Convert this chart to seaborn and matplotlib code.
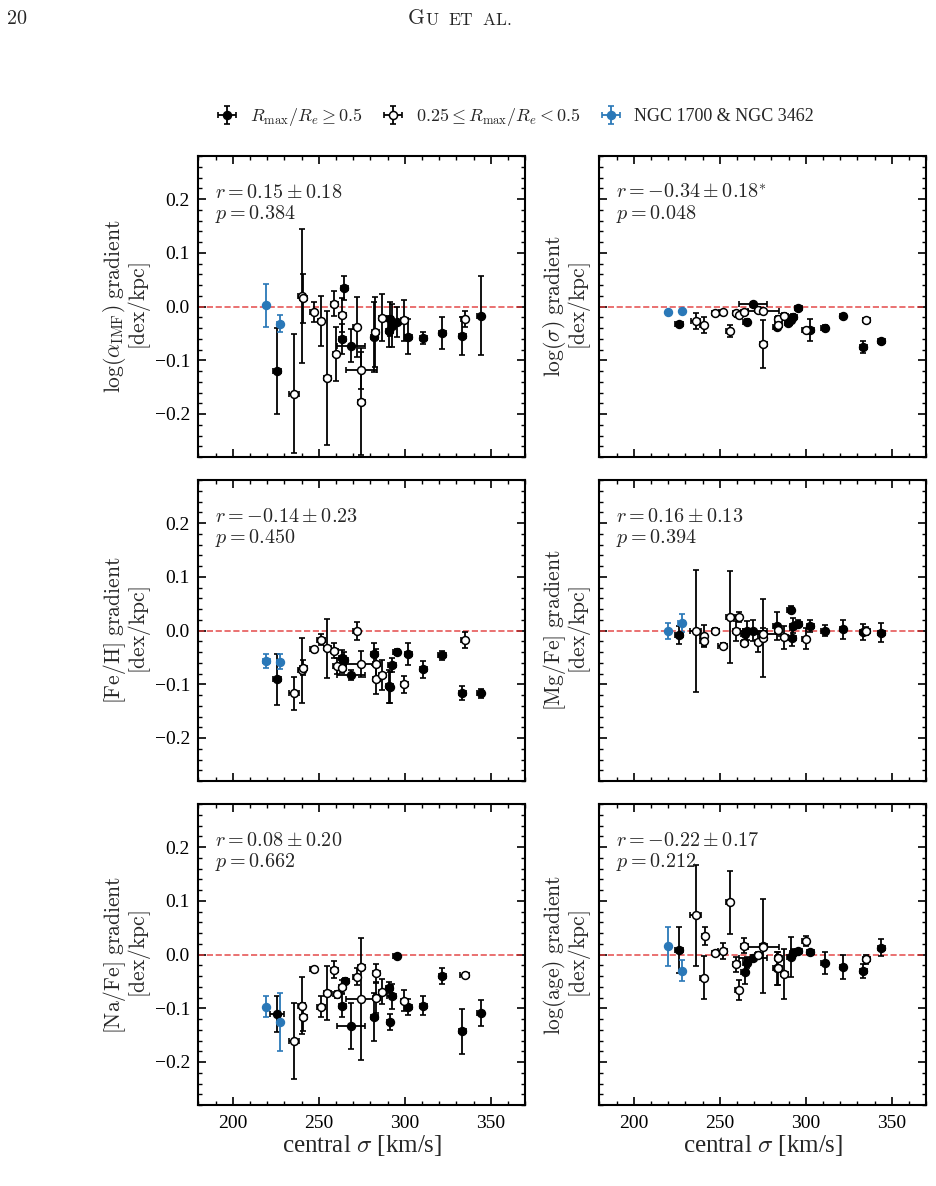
import numpy as np
import pandas as pd
import matplotlib
matplotlib.use('Agg')
import matplotlib.pyplot as plt
import seaborn as sns
from matplotlib.ticker import MultipleLocator
from matplotlib.lines import Line2D
from matplotlib.legend_handler import HandlerTuple

# ---------------- data: (central sigma, gradient, yerr, xerr) ----------------
imf_filled = [(225.8, -0.120, 0.080, 2.5), (263.7, -0.060, 0.028, 2), (264.9, 0.035, 0.022, 2),
              (268.8, -0.073, 0.031, 8), (282.3, -0.056, 0.065, 2), (290.9, -0.046, 0.029, 2),
              (291.4, -0.023, 0.031, 2), (292.4, -0.036, 0.040, 2), (295.7, -0.028, 0.028, 2),
              (301.9, -0.056, 0.032, 2), (310.8, -0.059, 0.011, 2), (321.7, -0.049, 0.030, 2),
              (333.3, -0.055, 0.035, 2), (344.0, -0.017, 0.074, 2)]
imf_open = [(235.6, -0.162, 0.111, 3), (240.1, 0.019, 0.125, 2), (241.0, 0.015, 0.046, 2),
            (247.1, -0.010, 0.019, 2), (251.3, -0.027, 0.046, 2), (255.0, -0.133, 0.124, 2),
            (259.1, 0.005, 0.023, 2), (260.0, -0.089, 0.050, 2), (263.7, -0.016, 0.031, 2),
            (272.1, -0.038, 0.056, 2), (274.6, -0.119, 0.035, 9), (274.6, -0.177, 0.100, 2),
            (282.9, -0.048, 0.065, 2), (286.8, -0.021, 0.044, 2), (299.8, -0.026, 0.038, 2),
            (334.7, -0.023, 0.015, 2)]
imf_blue = [(219.4, 0.002, 0.040, 0), (227.5, -0.032, 0.016, 2)]

sig_filled = [(226.3, -0.032, 0.004, 2.5), (265.7, -0.028, 0.004, 2), (269.4, 0.004, 0.004, 8),
              (283.0, -0.038, 0.004, 2), (289.9, -0.030, 0.005, 2), (291.3, -0.025, 0.005, 2),
              (292.6, -0.019, 0.005, 2), (295.5, -0.003, 0.004, 2), (302.7, -0.044, 0.021, 2),
              (311.0, -0.040, 0.005, 2), (321.6, -0.018, 0.004, 2), (333.5, -0.075, 0.011, 2),
              (343.9, -0.065, 0.005, 2)]
sig_open = [(235.9, -0.027, 0.014, 2.5), (240.6, -0.035, 0.015, 2), (247.3, -0.012, 0.003, 2),
            (251.6, -0.011, 0.003, 2), (255.7, -0.046, 0.011, 2), (259.5, -0.012, 0.004, 2),
            (261.1, -0.016, 0.004, 2), (264.2, -0.010, 0.004, 2), (272.5, -0.006, 0.005, 2),
            (275.2, -0.008, 0.004, 9), (275.2, -0.070, 0.045, 2), (283.9, -0.024, 0.006, 2),
            (283.9, -0.035, 0.004, 2), (287.4, -0.017, 0.004, 2), (300.0, -0.044, 0.004, 2),
            (335.2, -0.026, 0.003, 2)]
sig_blue = [(219.7, -0.010, 0.002, 0), (228.0, -0.009, 0.002, 0)]

feh_filled = [(225.8, -0.091, 0.047, 2.5), (263.7, -0.051, 0.015, 2), (264.9, -0.055, 0.015, 2),
              (268.8, -0.083, 0.010, 8), (282.3, -0.044, 0.020, 2), (290.9, -0.104, 0.030, 2),
              (291.4, -0.106, 0.029, 2), (292.6, -0.064, 0.013, 2.5), (295.3, -0.040, 0.006, 2),
              (301.9, -0.044, 0.020, 2), (310.8, -0.072, 0.016, 2), (321.7, -0.046, 0.008, 2.5),
              (333.3, -0.117, 0.013, 2), (344.0, -0.117, 0.009, 2)]
feh_open = [(235.6, -0.117, 0.030, 3), (240.1, -0.074, 0.060, 2), (241.0, -0.069, 0.014, 2),
            (247.1, -0.035, 0.005, 2), (251.3, -0.017, 0.010, 2.5), (255.0, -0.033, 0.055, 2),
            (259.1, -0.038, 0.014, 2), (260.4, -0.066, 0.014, 2), (263.7, -0.069, 0.010, 2),
            (272.1, -0.001, 0.016, 2), (274.6, -0.062, 0.024, 9), (283.3, -0.062, 0.028, 2),
            (283.3, -0.091, 0.028, 2), (286.8, -0.082, 0.028, 2), (299.8, -0.100, 0.016, 2),
            (334.7, -0.017, 0.015, 2)]
feh_blue = [(219.4, -0.056, 0.013, 2), (227.5, -0.058, 0.014, 2)]

mgfe_filled = [(226.3, -0.009, 0.017, 2.5), (264.6, -0.007, 0.010, 2), (265.7, 0.000, 0.017, 2),
               (269.4, 0.000, 0.020, 8), (283.0, 0.009, 0.026, 2), (291.3, 0.039, 0.006, 2),
               (292.2, -0.014, 0.015, 2), (292.6, 0.009, 0.014, 2), (295.5, 0.013, 0.006, 2),
               (302.7, 0.009, 0.011, 2), (311.0, 0.000, 0.010, 2), (321.6, 0.002, 0.018, 2),
               (333.5, -0.003, 0.015, 2), (343.9, -0.004, 0.018, 2)]
mgfe_open = [(235.9, -0.001, 0.113, 3), (240.6, -0.010, 0.020, 2), (240.6, -0.019, 0.010, 2),
             (247.3, 0.000, 0.004, 2), (251.6, -0.028, 0.004, 2.5), (255.7, 0.025, 0.085, 2),
             (259.5, -0.001, 0.018, 2), (261.1, 0.025, 0.010, 2), (264.2, -0.023, 0.006, 2),
             (272.5, -0.021, 0.019, 2), (275.2, -0.014, 0.073, 2), (275.2, -0.006, 0.010, 9),
             (283.9, 0.001, 0.008, 2), (287.4, -0.013, 0.022, 2), (300.0, -0.015, 0.019, 2),
             (335.2, -0.001, 0.008, 2)]
mgfe_blue = [(219.7, -0.001, 0.015, 0), (228.0, 0.014, 0.017, 2)]

nafe_filled = [(225.8, -0.111, 0.034, 4), (263.7, -0.095, 0.021, 2), (265.3, -0.049, 0.006, 2),
               (268.8, -0.133, 0.043, 8), (282.3, -0.116, 0.045, 2), (290.9, -0.062, 0.010, 2),
               (291.4, -0.126, 0.015, 2), (292.4, -0.078, 0.023, 2.5), (295.3, -0.003, 0.004, 2),
               (301.9, -0.097, 0.015, 2), (310.8, -0.095, 0.018, 2), (321.7, -0.040, 0.015, 2),
               (333.3, -0.143, 0.042, 2), (344.0, -0.109, 0.024, 2)]
nafe_open = [(235.6, -0.161, 0.071, 3), (240.1, -0.095, 0.053, 2), (241.0, -0.116, 0.026, 2),
             (247.1, -0.027, 0.004, 2), (251.3, -0.097, 0.020, 2.5), (255.0, -0.071, 0.050, 2),
             (259.1, -0.028, 0.016, 2), (260.4, -0.074, 0.006, 2), (263.7, -0.060, 0.012, 2),
             (272.1, -0.041, 0.015, 2), (274.6, -0.083, 0.114, 9), (274.6, -0.024, 0.004, 2),
             (283.3, -0.035, 0.018, 2), (283.3, -0.080, 0.029, 2), (286.8, -0.069, 0.023, 2),
             (299.8, -0.086, 0.020, 2), (334.7, -0.038, 0.004, 2.5)]
nafe_blue = [(219.4, -0.097, 0.019, 0), (227.5, -0.126, 0.054, 0)]

age_filled = [(226.3, 0.008, 0.043, 2.5), (264.6, -0.032, 0.023, 2), (265.7, -0.015, 0.010, 2),
              (269.4, -0.007, 0.006, 8), (283.0, -0.026, 0.030, 2), (291.3, -0.004, 0.037, 2),
              (292.6, 0.002, 0.008, 2), (295.5, 0.007, 0.004, 2), (302.7, 0.005, 0.004, 2),
              (311.0, -0.016, 0.020, 2), (321.6, -0.023, 0.022, 2), (333.5, -0.030, 0.013, 2),
              (343.9, 0.013, 0.015, 2)]
age_open = [(235.9, 0.073, 0.094, 3), (240.6, -0.043, 0.040, 2), (241.4, 0.034, 0.017, 2),
            (247.3, 0.003, 0.004, 2), (251.6, 0.006, 0.015, 2.5), (255.7, 0.097, 0.058, 2),
            (259.5, -0.018, 0.014, 2), (261.1, -0.066, 0.019, 2), (264.2, 0.016, 0.014, 2),
            (272.5, 0.000, 0.005, 2), (275.2, 0.016, 0.088, 2), (275.2, 0.014, 0.005, 9),
            (283.9, -0.007, 0.006, 2), (283.9, -0.026, 0.030, 2), (287.4, -0.036, 0.046, 2),
            (300.0, 0.025, 0.009, 2), (335.2, -0.009, 0.008, 2)]
age_blue = [(219.7, 0.015, 0.036, 0), (228.0, -0.030, 0.020, 0)]

ylabels = [r'$\log(\alpha_{\rm IMF})\ {\rm gradient}$', r'$\log(\sigma)\ {\rm gradient}$',
           r'$[{\rm Fe/H}]\ {\rm gradient}$', r'$[{\rm Mg/Fe}]\ {\rm gradient}$',
           r'$[{\rm Na/Fe}]\ {\rm gradient}$', r'$\log({\rm age})\ {\rm gradient}$']
r_texts = [r'$r=0.15\pm0.18$', r'$r=-0.34\pm0.18^{*}$', r'$r=-0.14\pm0.23$',
           r'$r=0.16\pm0.13$', r'$r=0.08\pm0.20$', r'$r=-0.22\pm0.17$']
p_texts = [r'$p=0.384$', r'$p=0.048$', r'$p=0.450$', r'$p=0.394$', r'$p=0.662$', r'$p=0.212$']
legend_labels = [r'$R_{\rm max}/R_e \geq 0.5$', r'$0.25 \leq R_{\rm max}/R_e < 0.5$',
                 'NGC 1700 & NGC 3462']

panels = [(imf_filled, imf_open, imf_blue), (sig_filled, sig_open, sig_blue),
          (feh_filled, feh_open, feh_blue), (mgfe_filled, mgfe_open, mgfe_blue),
          (nafe_filled, nafe_open, nafe_blue), (age_filled, age_open, age_blue)]

# ---------------- style ----------------
sns.set_theme(style='ticks')
plt.rcParams.update({
    'font.family': ['Liberation Serif', 'DejaVu Serif'],
    'mathtext.fontset': 'cm',
    'axes.linewidth': 1.5,
    'axes.edgecolor': 'black',
    'xtick.direction': 'in', 'ytick.direction': 'in',
    'xtick.top': True, 'ytick.right': True,
    'xtick.major.size': 6.0, 'ytick.major.size': 6.0,
    'xtick.minor.size': 3.2, 'ytick.minor.size': 3.2,
    'xtick.major.width': 1.2, 'ytick.major.width': 1.2,
    'xtick.minor.width': 1.0, 'ytick.minor.width': 1.0,
    'xtick.color': 'black', 'ytick.color': 'black',
    'xtick.labelsize': 14, 'ytick.labelsize': 14,
})

BLUE = '#2a78b8'
fig = plt.figure(figsize=(9.36, 11.86), dpi=100)
W, H = 936.0, 1186.0
col_x = [198.3, 599.3]
col_w = 327.0
row_top = [156, 480, 804]
row_h = 301

def draw_group(ax, rows, edge, face, ecolor):
    df = pd.DataFrame(rows, columns=['x', 'y', 'yerr', 'xerr'])
    cont = ax.errorbar(df['x'], df['y'], yerr=df['yerr'], xerr=df['xerr'], fmt='none',
                       ecolor=ecolor, elinewidth=1.3, capsize=2.3, capthick=1.2, zorder=2)
    sns.scatterplot(data=df, x='x', y='y', ax=ax, color=face, edgecolor=edge,
                    linewidth=1.1, s=32, zorder=3, legend=False)
    return cont

containers = None
for i, (filled, opened, blue) in enumerate(panels):
    r, c = divmod(i, 2)
    ax = fig.add_axes([col_x[c] / W, 1 - (row_top[r] + row_h) / H, col_w / W, row_h / H])
    ax.axhline(0, color='#e23b3b', ls='--', lw=1.2, alpha=0.85, zorder=1)
    c1 = draw_group(ax, filled, 'black', 'black', 'black')
    c2 = draw_group(ax, opened, 'black', 'white', 'black')
    c3 = draw_group(ax, blue, BLUE, BLUE, BLUE)
    if i == 0:
        containers = [c1, c2, c3]
    ax.set_xlim(180, 370)
    ax.set_ylim(-0.28, 0.28)
    ax.xaxis.set_major_locator(MultipleLocator(50))
    ax.xaxis.set_minor_locator(MultipleLocator(10))
    ax.yaxis.set_major_locator(MultipleLocator(0.1))
    ax.yaxis.set_minor_locator(MultipleLocator(0.02))
    ax.tick_params(which='both', top=True, right=True, direction='in')
    ax.tick_params(axis='y', pad=6)
    ax.tick_params(axis='x', pad=7)
    if c == 1:
        ax.tick_params(axis='y', labelleft=False)
    if r < 2:
        ax.tick_params(axis='x', labelbottom=False)
        ax.set_xlabel('')
    else:
        ax.set_xlabel(r'central $\sigma$ [km/s]', fontsize=18, labelpad=1)
    ax.set_ylabel(ylabels[i] + '\n' + r'$[{\rm dex/kpc}]$', fontsize=15.5, linespacing=0.88)
    ax.yaxis.set_label_coords(-0.14 if c == 0 else -0.02, 0.5)
    ax.text(0.05, 0.862, r_texts[i], transform=ax.transAxes, fontsize=14.5, va='baseline')
    ax.text(0.05, 0.792, p_texts[i], transform=ax.transAxes, fontsize=14.5, va='baseline')

# legend
marker_proxies = [Line2D([], [], ls='none', marker='o', ms=5.8, mfc='black', mec='black'),
                  Line2D([], [], ls='none', marker='o', ms=5.8, mfc='white', mec='black', mew=1.1),
                  Line2D([], [], ls='none', marker='o', ms=5.8, mfc=BLUE, mec=BLUE)]
handles = [(cont, mk) for cont, mk in zip(containers, marker_proxies)]
fig.legend(handles, legend_labels, loc='center', bbox_to_anchor=(516 / W, 1 - 117 / H),
           ncol=3, frameon=False, fontsize=13, handlelength=1.0, handletextpad=0.8,
           columnspacing=1.15, handler_map={tuple: HandlerTuple(ndivide=1)})

# page header
fig.text(6 / W, 1 - 20 / H, r'$\mathrm{20}$', fontsize=14.5, ha='left', va='center')
fig.text(425 / W, 1 - 20 / H, r'$\mathrm{G}$', fontsize=15.5, ha='right', va='center')
fig.text(425 / W, 1 - 20.8 / H, r'$\mathrm{U\ \ ET\ \ AL.}$', fontsize=12.5, ha='left', va='center')

fig.savefig('out.png', dpi=100)
